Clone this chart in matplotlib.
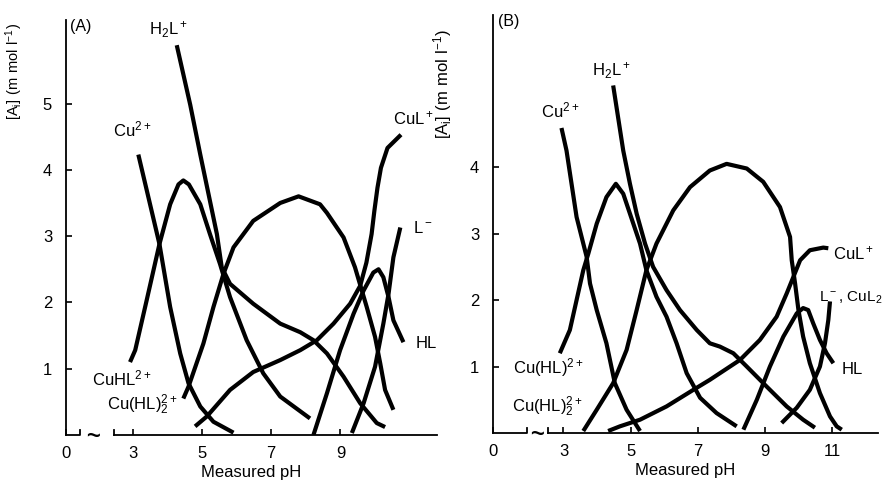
import matplotlib
matplotlib.use('Agg')
import matplotlib.pyplot as plt

plt.rcParams['font.family'] = ['Liberation Sans', 'DejaVu Sans']

# ---- panel (A): species concentration (m mol/l) vs measured pH ----
a_cu_ph = [3.16, 3.77, 4.08, 4.37, 4.61, 4.95, 5.33, 5.91]
a_cu_c = [4.23, 2.88, 1.93, 1.23, 0.78, 0.43, 0.20, 0.035]

a_cuhl_ph = [2.92, 3.07, 3.40, 3.77, 4.08, 4.32, 4.46, 4.62, 4.95, 5.23, 5.52, 5.81, 6.29, 6.77, 7.26, 8.12]
a_cuhl_c = [1.10, 1.28, 2.03, 2.88, 3.48, 3.78, 3.84, 3.78, 3.48, 3.03, 2.58, 2.08, 1.43, 0.93, 0.58, 0.25]

a_h2l_ph = [4.27, 4.66, 4.95, 5.23, 5.43, 5.57, 5.81, 6.48, 7.26, 7.84, 8.22, 8.61, 9.09, 9.57, 10.05, 10.29]
a_h2l_c = [5.88, 4.98, 4.23, 3.53, 3.03, 2.53, 2.28, 1.98, 1.68, 1.55, 1.43, 1.23, 0.88, 0.48, 0.18, 0.12]

a_cuhl2_ph = [4.46, 4.61, 5.04, 5.33, 5.62, 5.91, 6.48, 7.26, 7.79, 8.41, 8.61, 9.09, 9.42, 9.76, 10.00, 10.15, 10.29, 10.53]
a_cuhl2_c = [0.55, 0.73, 1.38, 1.93, 2.43, 2.83, 3.23, 3.50, 3.60, 3.48, 3.35, 2.98, 2.53, 1.93, 1.48, 1.08, 0.68, 0.38]

a_cul_ph = [4.80, 5.14, 5.81, 6.48, 7.26, 7.84, 8.32, 8.80, 9.28, 9.57, 9.75, 9.90, 9.98, 10.07, 10.17, 10.36, 10.75]
a_cul_c = [0.13, 0.28, 0.68, 0.95, 1.13, 1.28, 1.43, 1.68, 1.98, 2.25, 2.60, 3.03, 3.38, 3.73, 4.03, 4.33, 4.53]

a_l_ph = [9.33, 9.67, 10.00, 10.24, 10.39, 10.53, 10.73]
a_l_c = [0.03, 0.48, 1.03, 1.68, 2.13, 2.68, 3.13]

a_hl_ph = [8.22, 8.61, 8.99, 9.38, 9.67, 9.95, 10.10, 10.24, 10.39, 10.53, 10.82]
a_hl_c = [0.0, 0.63, 1.28, 1.83, 2.18, 2.45, 2.50, 2.38, 2.08, 1.73, 1.40]

# ---- panel (B) ----
b_cu_ph = [2.94, 3.09, 3.39, 3.69, 3.79, 3.99, 4.28, 4.53, 4.88, 5.28]
b_cu_c = [4.59, 4.25, 3.25, 2.65, 2.25, 1.85, 1.35, 0.75, 0.35, 0.03]

b_cuhl_ph = [2.89, 3.19, 3.39, 3.59, 3.74, 3.99, 4.28, 4.56, 4.78, 5.08, 5.28, 5.47, 5.77, 6.07, 6.37, 6.67, 7.07, 7.56, 8.16]
b_cuhl_c = [1.20, 1.55, 2.00, 2.45, 2.70, 3.15, 3.55, 3.75, 3.60, 3.15, 2.85, 2.45, 2.05, 1.75, 1.35, 0.90, 0.53, 0.30, 0.10]

b_h2l_ph = [4.48, 4.78, 4.98, 5.18, 5.43, 5.67, 6.07, 6.47, 6.97, 7.36, 7.66, 8.06, 8.46, 9.05, 9.65, 10.14, 10.49]
b_h2l_c = [5.23, 4.25, 3.75, 3.30, 2.85, 2.50, 2.15, 1.85, 1.55, 1.35, 1.30, 1.20, 1.00, 0.70, 0.40, 0.20, 0.08]

b_loop_ph = [3.59, 3.99, 4.48, 4.88, 5.18, 5.47, 5.77, 6.27, 6.77, 7.36, 7.86, 8.46, 8.95, 9.45, 9.75, 9.80, 9.90, 10.00, 10.14, 10.34, 10.64, 10.94, 11.14, 11.29]
b_loop_c = [0.03, 0.35, 0.75, 1.25, 1.85, 2.45, 2.85, 3.35, 3.70, 3.95, 4.05, 3.98, 3.78, 3.40, 2.95, 2.60, 2.25, 1.85, 1.45, 1.05, 0.60, 0.25, 0.10, 0.05]

b_cul_ph = [4.33, 4.68, 5.28, 6.07, 6.87, 7.36, 7.66, 8.26, 8.85, 9.35, 9.65, 9.85, 10.05, 10.34, 10.74, 10.89]
b_cul_c = [0.03, 0.10, 0.20, 0.40, 0.65, 0.80, 0.90, 1.10, 1.40, 1.75, 2.10, 2.35, 2.60, 2.75, 2.79, 2.78]

b_hl_ph = [8.36, 8.76, 9.15, 9.55, 9.95, 10.14, 10.29, 10.44, 10.64, 10.84, 11.04]
b_hl_c = [0.05, 0.50, 1.00, 1.45, 1.80, 1.88, 1.85, 1.65, 1.40, 1.20, 1.05]

b_l_ph = [9.50, 9.95, 10.34, 10.64, 10.79, 10.89, 10.94]
b_l_c = [0.15, 0.38, 0.65, 1.00, 1.35, 1.70, 1.98]

a_xticks = [3, 5, 7, 9]
a_yticks = [1, 2, 3, 4, 5]
b_xticks = [3, 5, 7, 9, 11]
b_yticks = [1, 2, 3, 4]

# species labels: (text, pH, conc, ha, size)
a_labels = [
    (r'$\mathregular{H_2L^+}$', 4.02, 6.11, 'center', 12),
    (r'$\mathregular{Cu^{2+}}$', 2.98, 4.61, 'center', 12),
    (r'$\mathregular{CuL^+}$', 10.52, 4.77, 'left', 12),
    (r'$\mathregular{L^-}$', 11.10, 3.12, 'left', 12),
    ('HL', 11.16, 1.38, 'left', 12),
    (r'$\mathregular{CuHL^{2+}}$', 1.82, 0.86, 'left', 12),
    (r'$\mathregular{Cu(HL)_2^{2+}}$', 2.26, 0.45, 'left', 12),
]
b_labels = [
    (r'$\mathregular{H_2L^+}$', 4.44, 5.46, 'center', 12),
    (r'$\mathregular{Cu^{2+}}$', 2.89, 4.86, 'center', 12),
    (r'$\mathregular{CuL^+}$', 11.03, 2.71, 'left', 12),
    (r'L$\mathregular{^-}$, CuL$\mathregular{_2}$', 10.60, 2.03, 'left', 11),
    ('HL', 11.30, 0.95, 'left', 12),
    (r'$\mathregular{Cu(HL)^{2+}}$', 1.49, 0.98, 'left', 12),
    (r'$\mathregular{Cu(HL)_2^{2+}}$', 1.46, 0.40, 'left', 12),
]


def setup_axes(ax, xlim, ylim, xticks, yticks, brk, tag, ylab_pos, ylab_size):
    ax.set_xlim(*xlim)
    ax.set_ylim(*ylim)
    for s in ['top', 'right']:
        ax.spines[s].set_visible(False)
    ax.spines['left'].set_linewidth(1.3)
    ax.spines['bottom'].set_linewidth(1.3)
    ax.spines['bottom'].set_bounds(brk[2], xlim[1])
    ax.set_xticks([xlim[0]] + xticks)
    ax.set_xticklabels(['0'] + [str(t) for t in xticks])
    ax.set_yticks(yticks)
    ax.tick_params(axis='x', direction='in', length=4, width=1.2, pad=8, labelsize=12)
    ax.tick_params(axis='y', direction='in', length=4, width=1.2, pad=10, labelsize=12)
    # broken axis: short stub, tilde, then the main axis
    h = 0.07
    ax.plot([xlim[0], brk[0], brk[0]], [0, 0, h], color='black', lw=1.3, clip_on=False)
    ax.plot([brk[2], brk[2]], [0, h], color='black', lw=1.3, clip_on=False)
    ax.text(brk[1], -0.03, '~', ha='center', va='center', fontsize=17, fontweight='bold')
    ax.text(0.012, 0.985, tag, transform=ax.transAxes, ha='left', va='center', fontsize=11.5)
    ax.set_xlabel('Measured pH', fontsize=12, labelpad=3)
    ax.set_ylabel(r'$\mathregular{[A_i]\ (m\ mol\ l^{-1})}$', fontsize=ylab_size)
    ax.yaxis.set_label_coords(*ylab_pos)


fig = plt.figure(figsize=(8.83, 4.83), dpi=100)
axA = fig.add_axes([66 / 883, 48 / 483, 371 / 883, 415 / 483])
axB = fig.add_axes([493 / 883, 50 / 483, 385 / 883, 418 / 483])

kw = dict(color='black', lw=3.0, solid_joinstyle='round', solid_capstyle='butt')

for ph, c in [(a_cu_ph, a_cu_c), (a_cuhl_ph, a_cuhl_c), (a_h2l_ph, a_h2l_c),
              (a_cuhl2_ph, a_cuhl2_c), (a_cul_ph, a_cul_c), (a_l_ph, a_l_c),
              (a_hl_ph, a_hl_c)]:
    axA.plot(ph, c, **kw)

for ph, c in [(b_cu_ph, b_cu_c), (b_cuhl_ph, b_cuhl_c), (b_h2l_ph, b_h2l_c),
              (b_loop_ph, b_loop_c), (b_cul_ph, b_cul_c), (b_hl_ph, b_hl_c),
              (b_l_ph, b_l_c)]:
    axB.plot(ph, c, **kw)

setup_axes(axA, (1.07, 11.79), (0, 6.26), a_xticks, a_yticks,
           (1.47, 1.86, 2.46), '(A)', (-0.11, 0.875), 10.5)
setup_axes(axB, (0.90, 12.37), (0, 6.29), b_xticks, b_yticks,
           (1.91, 2.2, 2.54), '(B)', (-0.10, 0.835), 12)

for ax, labels in [(axA, a_labels), (axB, b_labels)]:
    for txt, x, y, ha, size in labels:
        ax.text(x, y, txt, ha=ha, va='center', fontsize=size)

fig.savefig('out.png', dpi=100)
